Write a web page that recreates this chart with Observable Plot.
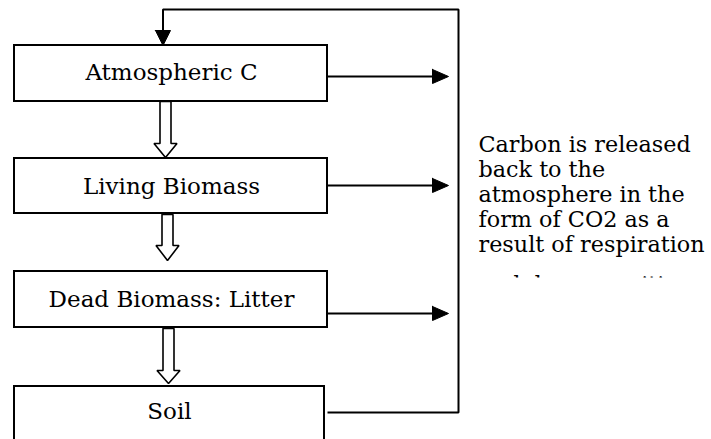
<!DOCTYPE html>
<html><head><meta charset="utf-8">
<script src="https://cdn.jsdelivr.net/npm/d3@7"></script>
<script src="https://cdn.jsdelivr.net/npm/@observablehq/plot@0.6"></script>
<style>html,body{margin:0;padding:0;background:#fff;overflow:hidden} svg{display:block}</style>
</head><body><div id="chart"></div>
<script>
// Diagram content
const boxLabels = ["Atmospheric C", "Living Biomass", "Dead Biomass: Litter", "Soil"];
const boxTop = [45, 158, 271, 386];
const boxBottom = [101, 213, 327, 445];
const boxRight = [327, 327, 327, 324];
const boxLeft = 14;
const labelBaseline = [79, 193, 306, 418];
const labelX = [171, 171, 171, 169];
const releaseY = [76, 185, 313];
const releaseX = [327, 448];
const flowX = [165, 167, 168];
const flowTop = [101, 214, 328];
const flowShaftEnd = [143, 245, 370];
const flowTip = [157, 260, 383];
const loopPath = [[327, 412], [458, 412], [458, 9], [162.5, 9], [162.5, 31]];
const loopTip = [162.5, 45];
const noteLines = ["Carbon is released", "back to the", "atmosphere in the", "form of CO2 as a", "result of respiration", "and decomposition"];
const noteBaseline = [151, 176, 201, 226, 251, 291];
const noteX = 478;

const boxes = boxLabels.map((label, i) => ({label, x1: boxLeft, x2: boxRight[i], y1: boxTop[i], y2: boxBottom[i], tx: labelX[i], ty: labelBaseline[i]}));
const releaseLinks = releaseY.map(y => ({x1: releaseX[0], x2: releaseX[1] - 14, y1: y, y2: y}));
const heads = [];
releaseY.forEach((y, i) => {
  const t = releaseX[1];
  [[t - 16, y - 7], [t, y], [t - 16, y + 7], [t - 16, y - 7]].forEach(([x, yy]) => heads.push({id: "r" + i, x, y: yy}));
});
[[loopTip[0] - 7.5, loopTip[1] - 15], [loopTip[0], loopTip[1]], [loopTip[0] + 7.5, loopTip[1] - 15], [loopTip[0] - 7.5, loopTip[1] - 15]]
  .forEach(([x, y]) => heads.push({id: "loop", x, y}));
const hollow = [];
flowX.forEach((cx, i) => {
  const sw = 5.5, hw = 11.5;
  [[cx - sw, flowTop[i]], [cx + sw, flowTop[i]], [cx + sw, flowShaftEnd[i]], [cx + hw, flowShaftEnd[i]], [cx, flowTip[i]],
   [cx - hw, flowShaftEnd[i]], [cx - sw, flowShaftEnd[i]], [cx - sw, flowTop[i]]]
    .forEach(([x, y]) => hollow.push({id: "h" + i, x, y}));
});
const loop = loopPath.map(([x, y]) => ({x, y}));
const notes = noteLines.map((t, i) => ({t, y: noteBaseline[i]}));

const font = "DejaVu Serif";
const chart = Plot.plot({
  width: 711, height: 439, margin: 0,
  x: {domain: [0, 711], range: [0, 711], axis: null},
  y: {domain: [0, 439], range: [0, 439], axis: null},
  style: {background: "#fff", overflow: "hidden"},
  marks: [
    Plot.line(loop, {x: "x", y: "y", stroke: "#000", strokeWidth: 2, strokeLinejoin: "miter", strokeLinecap: "butt"}),
    Plot.link(releaseLinks, {x1: "x1", x2: "x2", y1: "y1", y2: "y2", stroke: "#000", strokeWidth: 2}),
    Plot.line(heads, {x: "x", y: "y", z: "id", fill: "#000", stroke: "#000", strokeWidth: 1, curve: "linear-closed"}),
    Plot.line(hollow, {x: "x", y: "y", z: "id", fill: "#fff", stroke: "#000", strokeWidth: 1.6, strokeLinejoin: "miter"}),
    Plot.rect(boxes, {x1: "x1", x2: "x2", y1: "y1", y2: "y2", fill: "#fff", stroke: "#000", strokeWidth: 2}),
    Plot.text(boxes, {x: "tx", y: "ty", text: "label", fontFamily: font, fontSize: 23, lineAnchor: "bottom", textAnchor: "middle", fill: "#000"}),
    Plot.text(notes, {x: noteX, y: "y", text: "t", fontFamily: font, fontSize: 22.3, lineAnchor: "bottom", textAnchor: "start", fill: "#000"}),
    Plot.rect([{x1: 468, x2: 711, y1: 258, y2: 274}, {x1: 468, x2: 711, y1: 277.5, y2: 300}], {x1: "x1", x2: "x2", y1: "y1", y2: "y2", fill: "#fff"})
  ]
});
document.getElementById("chart").appendChild(chart);
</script>
</body></html>
